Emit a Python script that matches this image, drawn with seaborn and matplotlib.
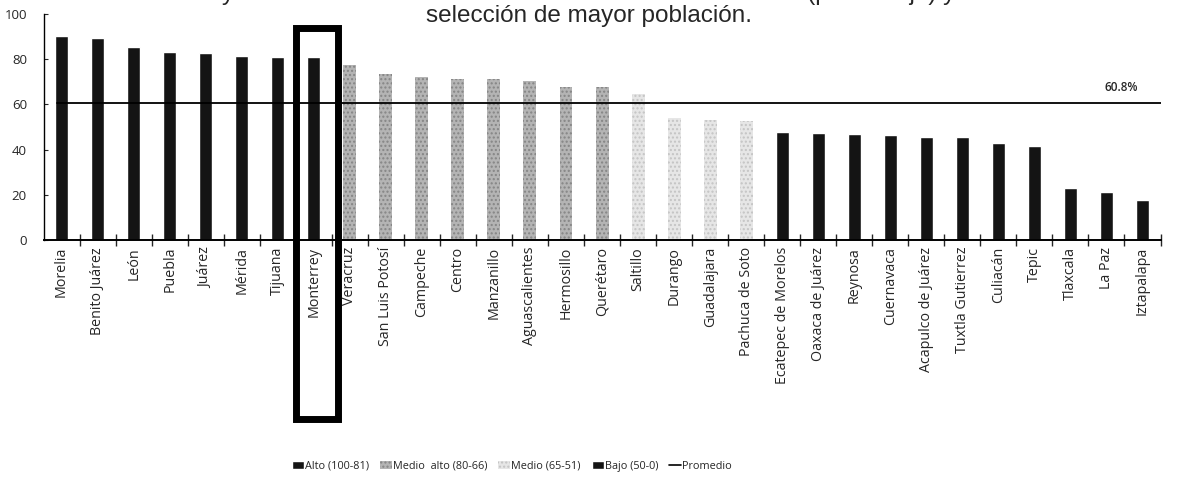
import matplotlib
matplotlib.use("Agg")
import matplotlib.pyplot as plt
from matplotlib.colors import to_hex
from matplotlib.patches import Rectangle
from matplotlib.lines import Line2D
from matplotlib.ticker import FixedLocator
import pandas as pd
import seaborn as sns

# Ciudades (orden del gráfico)
ciudades = ["Morelia", "Benito Juárez", "León", "Puebla", "Juárez", "Mérida", "Tijuana",
            "Monterrey", "Veracruz", "San Luis Potosí", "Campeche", "Centro", "Manzanillo",
            "Aguascalientes", "Hermosillo", "Querétaro", "Saltillo", "Durango", "Guadalajara",
            "Pachuca de Soto", "Ecatepec de Morelos", "Oaxaca de Juárez", "Reynosa",
            "Cuernavaca", "Acapulco de Juárez", "Tuxtla Gutierrez", "Culiacán", "Tepic",
            "Tlaxcala", "La Paz", "Iztapalapa"]

valores = [90.2, 89.2, 85.6, 83.0, 82.8, 81.6, 81.1, 81.0, 77.6, 73.5, 72.3, 71.2, 71.1,
           70.5, 67.8, 67.5, 64.6, 54.2, 53.3, 52.8, 47.8, 47.4, 47.1, 46.3, 45.7, 45.6,
           42.9, 41.7, 22.8, 21.1, 17.6]

niveles = ["Alto (100-81)"] * 8 + ["Medio  alto (80-66)"] * 8 + ["Medio (65-51)"] * 4 + \
          ["Bajo (50-0)"] * 11

promedio = 60.8

colores = {
    "Alto (100-81)": "#141414",
    "Medio  alto (80-66)": "#b4b4b4",
    "Medio (65-51)": "#e6e6e6",
    "Bajo (50-0)": "#141414",
}

df = pd.DataFrame({"Ciudad": ciudades, "Valor": valores, "Nivel": niveles})

sns.set_style("white")
plt.rcParams["font.family"] = ["Open Sans", "DejaVu Sans"]

fig = plt.figure(figsize=(11.77, 4.82), dpi=100)
ax = fig.add_axes([0.037, 0.502, 0.949, 0.469])

sns.barplot(data=df, x="Ciudad", y="Valor", hue="Nivel", palette=colores,
            dodge=False, width=0.36, ax=ax, legend=True, saturation=1)

# textura punteada para los tonos grises
for barra in ax.patches:
    fc = to_hex(barra.get_facecolor())
    if fc in ("#b4b4b4", "#e6e6e6"):
        barra.set_hatch("....")
        barra.set_edgecolor("#858585" if fc == "#b4b4b4" else "#c4c4c4")
        barra.set_linewidth(0)

# línea de promedio
ax.axhline(promedio, xmin=0.012, xmax=1, color="black", lw=1.3)
ax.annotate(f"{promedio}%", xy=(0.965, promedio), xycoords=("axes fraction", "data"),
            xytext=(0, 6), textcoords="offset points", ha="center", va="bottom",
            fontsize=8.5, fontweight="semibold")

# recuadro de Monterrey
idx = ciudades.index("Monterrey")
ax.add_patch(Rectangle((idx - 0.5, -79), 1.18, 94 + 79, fill=False, lw=5,
                       ec="black", clip_on=False, zorder=5))

ax.set_xlim(-0.5, len(ciudades) - 0.5)
ax.set_ylim(0, 100)
ax.set_yticks([0, 20, 40, 60, 80, 100])
ax.set_xlabel("")
ax.set_ylabel("")
ax.set_xticks(range(len(ciudades)))
ax.set_xticklabels(ciudades, rotation=90, fontsize=10.3)
ax.tick_params(axis="x", which="major", length=0, pad=5)
ax.xaxis.set_minor_locator(FixedLocator([i + 0.5 for i in range(len(ciudades))]))
ax.tick_params(axis="x", which="minor", direction="inout", length=9, width=1, bottom=True)
ax.tick_params(axis="y", direction="in", length=3, labelsize=9.5, left=True, pad=12)
sns.despine(ax=ax, top=True, right=True)
ax.spines["left"].set_linewidth(1)
ax.spines["bottom"].set_linewidth(1.4)
ax.spines["left"].set_color("black")
ax.spines["bottom"].set_color("black")

# leyenda
handles, labels = ax.get_legend_handles_labels()
ax.get_legend().remove()
handles.append(Line2D([], [], color="black", lw=1.2))
labels.append("Promedio")
fig.legend(handles, labels, loc="center", bbox_to_anchor=(0.435, 0.033), ncol=5,
           frameon=False, fontsize=7.8, handlelength=1.1, handleheight=0.7,
           handletextpad=0.1, columnspacing=1.0)

# título (primera línea recortada en el original)
fig.text(0.5, 0.945, "y Demarcaciones Territoriales de la Ciudad de México (porcentaje) y\n"
         "selección de mayor población.", ha="center", va="bottom",
         fontsize=17.5, family=["Liberation Sans", "DejaVu Sans"], linespacing=1.0)

fig.savefig("out.png", dpi=100)
